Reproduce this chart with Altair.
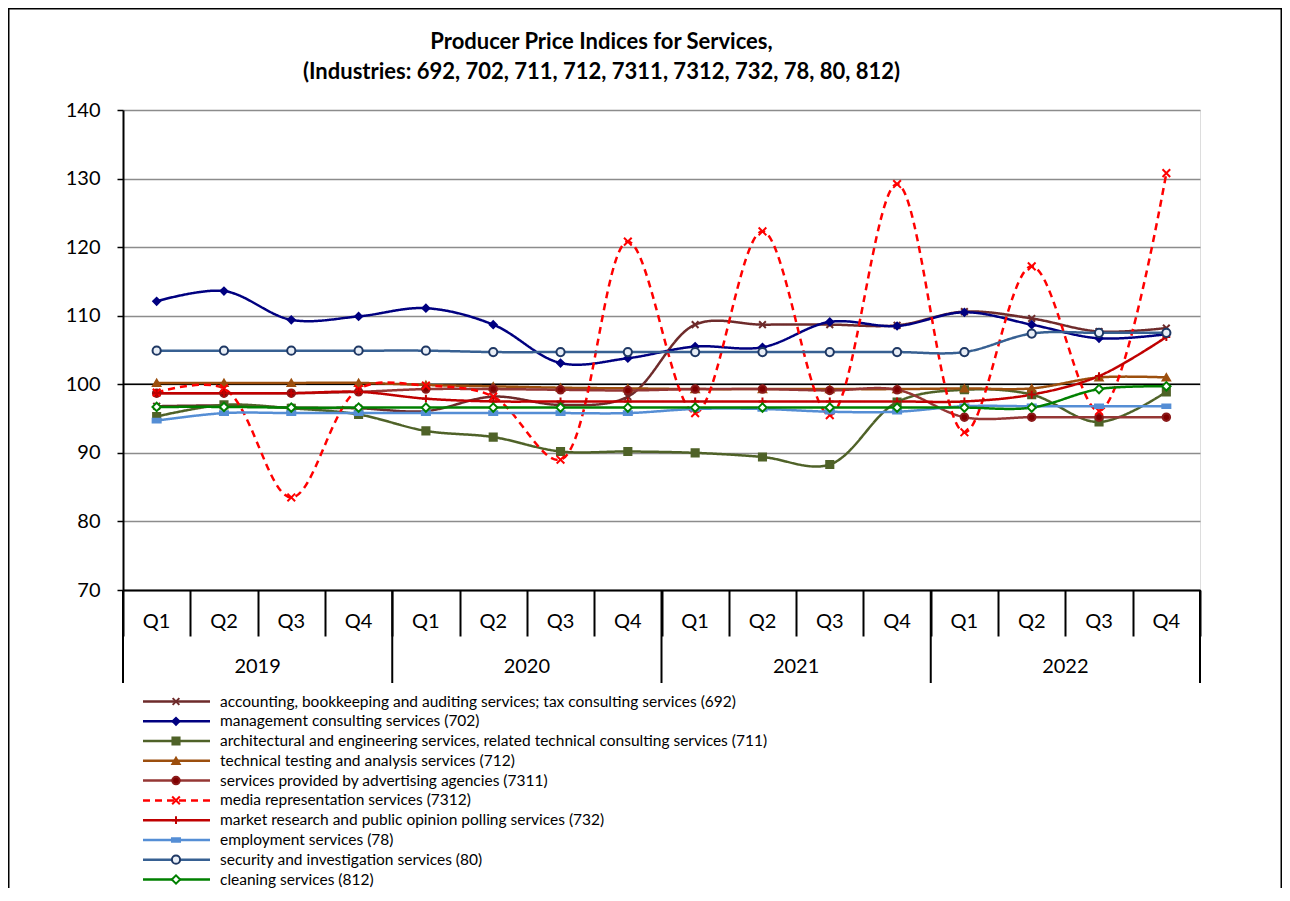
import altair as alt
import pandas as pd

quarters = ["Q1", "Q2", "Q3", "Q4"]
years = ["2019", "2020", "2021", "2022"]

codes = ["692", "702", "711", "712", "7311", "7312", "732", "78", "80", "812"]
labels = [
    "accounting, bookkeeping and auditing services; tax consulting services (692)",
    "management consulting services (702)",
    "architectural and engineering services, related technical consulting services (711)",
    "technical testing and analysis services (712)",
    "services provided by advertising agencies (7311)",
    "media representation services (7312)",
    "market research and public opinion polling services (732)",
    "employment services (78)",
    "security and investigation services (80)",
    "cleaning services (812)",
]

s692 = [96.8, 96.9, 96.6, 96.5, 96.1, 98.2, 97.0, 98.2, 108.7, 108.7, 108.7, 108.6, 110.6, 109.6, 107.7, 108.2]
s702 = [112.1, 113.6, 109.4, 109.9, 111.1, 108.7, 103.1, 103.8, 105.5, 105.4, 109.1, 108.5, 110.5, 108.7, 106.7, 107.3]
s711 = [95.3, 97.0, 96.5, 95.6, 93.2, 92.3, 90.2, 90.2, 90.0, 89.4, 88.3, 97.4, 99.2, 98.5, 94.5, 98.9]
s712 = [100.2, 100.2, 100.2, 100.2, 99.9, 99.7, 99.5, 99.4, 99.3, 99.3, 99.3, 99.3, 99.4, 99.4, 101.0, 101.0]
s7311 = [98.7, 98.7, 98.7, 98.9, 99.3, 99.3, 99.2, 99.1, 99.3, 99.3, 99.1, 99.2, 95.2, 95.2, 95.2, 95.2]
s7312 = [98.8, 99.4, 83.5, 99.3, 99.8, 98.2, 89.0, 120.8, 95.8, 122.3, 95.5, 129.2, 93.0, 117.2, 96.1, 130.8]
s732 = [98.7, 98.7, 98.7, 98.9, 97.9, 97.5, 97.5, 97.5, 97.5, 97.5, 97.5, 97.5, 97.5, 98.5, 101.2, 106.9]
s78 = [94.7, 95.8, 95.8, 95.8, 95.8, 95.8, 95.8, 95.8, 96.4, 96.4, 96.0, 96.0, 96.8, 96.8, 96.8, 96.8]
s80 = [104.9, 104.9, 104.9, 104.9, 104.9, 104.7, 104.7, 104.7, 104.7, 104.7, 104.7, 104.7, 104.7, 107.4, 107.5, 107.5]
s812 = [96.7, 96.7, 96.6, 96.6, 96.6, 96.6, 96.6, 96.6, 96.6, 96.6, 96.6, 96.6, 96.6, 96.6, 99.3, 99.7]
series = [s692, s702, s711, s712, s7311, s7312, s732, s78, s80, s812]

line_colors = ["#6E2B2B", "#000080", "#4F6228", "#9C4F0E", "#953735", "#FF0000", "#C00000", "#558ED5", "#376092", "#008000"]
marker_fill = ["#6E2B2B", "#000080", "#4F6228", "#9C4F0E", "#7F0000", "#FF0000", "#C00000", "#558ED5", "#E8EEF6", "#FFFFFF"]
marker_stroke = ["#6E2B2B", "#000080", "#4F6228", "#9C4F0E", "#8B1A1A", "#FF0000", "#C00000", "#558ED5", "#1F3864", "#008000"]
marker_shape = [
    "M-1,-1L1,1M-1,1L1,-1",
    "diamond",
    "square",
    "triangle-up",
    "circle",
    "M-1,-1L1,1M-1,1L1,-1",
    "M-1,0L1,0M0,-1L0,1",
    "M-1,-0.45H1V0.45H-1Z",
    "circle",
    "diamond",
]
marker_size = [45, 70, 55, 110, 130, 45, 55, 40, 85, 60]
dashes = [[1, 0]] * 5 + [[7, 5]] + [[1, 0]] * 4

keys = [f"{y} {q}" for y in years for q in quarters]

rows = []
for code, vals in zip(codes, series):
    for k, v in zip(keys, vals):
        rows.append({"code": code, "key": k, "value": v})
df = pd.DataFrame(rows)

qdf = pd.DataFrame({"key": keys, "q": [k.split(" ")[1] for k in keys]})
ystart = pd.DataFrame({"key": [f"{y} Q1" for y in years]})
ymid = pd.DataFrame({"key": [f"{y} Q3" for y in years], "year": years})
yend = pd.DataFrame({"key": [keys[-1]]})
legdf = pd.DataFrame({"code": codes, "label": labels, "li": list(range(len(codes)))})

FONT = "Lato"
W, H = 1077, 480
PAD_R = 82

xsc = alt.Scale(domain=keys, paddingInner=0, paddingOuter=0)
ysc = alt.Scale(domain=[70, 140], nice=False, zero=False)
col = alt.Scale(domain=codes, range=line_colors)
dsh = alt.Scale(domain=codes, range=dashes)
fil = alt.Scale(domain=codes, range=marker_fill)
stk = alt.Scale(domain=codes, range=marker_stroke)
shp = alt.Scale(domain=codes, range=marker_shape)
siz = alt.Scale(domain=codes, range=marker_size)

xaxis = alt.Axis(labels=False, ticks=True, tickBand="extent", tickSize=46, tickWidth=2,
                 tickColor="black", domainColor="black", domainWidth=2, grid=False, title=None)
yaxis = alt.Axis(values=[70, 80, 90, 100, 110, 120, 130, 140], labelFontSize=20, labelFont=FONT,
                 labelColor="black", tickSize=6, tickWidth=1.5, tickColor="black",
                 domainColor="black", domainWidth=2, grid=True, gridColor="#8C8C8C",
                 gridWidth=1.5, labelPadding=17, title=None)

lines = alt.Chart(df).mark_line(interpolate="catmull-rom", strokeWidth=2.5).encode(
    x=alt.X("key:N", scale=xsc, axis=xaxis, sort=keys),
    y=alt.Y("value:Q", scale=ysc, axis=yaxis),
    color=alt.Color("code:N", scale=col, legend=None),
    strokeDash=alt.StrokeDash("code:N", scale=dsh, legend=None),
)
points = alt.Chart(df).mark_point(filled=False, strokeWidth=2, opacity=1).encode(
    x=alt.X("key:N", scale=xsc, sort=keys),
    y=alt.Y("value:Q", scale=ysc),
    fill=alt.Fill("code:N", scale=fil, legend=None),
    stroke=alt.Stroke("code:N", scale=stk, legend=None),
    shape=alt.Shape("code:N", scale=shp, legend=None),
    size=alt.Size("code:N", scale=siz, legend=None),
)
base100 = alt.Chart(pd.DataFrame({"v": [100]})).mark_rule(color="black", strokeWidth=1.5).encode(
    y=alt.Y("v:Q", scale=ysc)
)
qlab = alt.Chart(qdf).mark_text(font=FONT, fontSize=20, color="black", baseline="middle").encode(
    x=alt.X("key:N", scale=xsc, sort=keys), y=alt.value(512), text="q:N"
)
ylab = alt.Chart(ymid).mark_text(font=FONT, fontSize=20, color="black", baseline="middle").encode(
    x=alt.X("key:N", scale=xsc, sort=keys, bandPosition=0), y=alt.value(557), text="year:N"
)
ysep = alt.Chart(ystart).mark_rule(color="black", strokeWidth=2).encode(
    x=alt.X("key:N", scale=xsc, sort=keys, bandPosition=0), y=alt.value(480), y2=alt.value(573)
)
yendr = alt.Chart(yend).mark_rule(color="black", strokeWidth=2).encode(
    x=alt.X("key:N", scale=xsc, sort=keys, bandPosition=1), y=alt.value(480), y2=alt.value(573)
)

plot = alt.layer(base100, lines, points, qlab, ylab, ysep, yendr)

lsc = alt.Scale(domain=[0, 9], range=[591.5, 769.5])
leg_line = alt.Chart(legdf).mark_rule(strokeWidth=2.5).encode(
    x=alt.value(20), x2=alt.value(87),
    y=alt.Y("li:Q", scale=lsc, axis=None),
    color=alt.Color("code:N", scale=col, legend=None),
    strokeDash=alt.StrokeDash("code:N", scale=dsh, legend=None),
)
leg_pt = alt.Chart(legdf).mark_point(filled=False, strokeWidth=2, opacity=1).encode(
    x=alt.value(53),
    y=alt.Y("li:Q", scale=lsc, axis=None),
    fill=alt.Fill("code:N", scale=fil, legend=None),
    stroke=alt.Stroke("code:N", scale=stk, legend=None),
    shape=alt.Shape("code:N", scale=shp, legend=None),
    size=alt.Size("code:N", scale=siz, legend=None),
)
leg_txt = alt.Chart(legdf).mark_text(font=FONT, fontSize=15.5, color="black", align="left", baseline="middle").encode(
    x=alt.value(97),
    y=alt.Y("li:Q", scale=lsc, axis=None),
    text="label:N",
)
frame = alt.Chart(pd.DataFrame({"a": [0]})).mark_rule(color="black", strokeWidth=1.5).encode(
    x=alt.value(-114.25), y=alt.value(-101.5), y2=alt.value(800)
)
frame_r = alt.Chart(pd.DataFrame({"a": [0]})).mark_rule(color="black", strokeWidth=1.5).encode(
    x=alt.value(W + PAD_R - 0.75), y=alt.value(-101.5), y2=alt.value(800)
)
frame_t = alt.Chart(pd.DataFrame({"a": [0]})).mark_rule(color="black", strokeWidth=1.5).encode(
    x=alt.value(-115), x2=alt.value(W + PAD_R), y=alt.value(-101.25)
)
legend = alt.layer(leg_line, leg_pt, leg_txt, frame, frame_r, frame_t)

chart = alt.layer(plot, legend).resolve_scale(y="independent").properties(
    width=W, height=H,
    title=alt.TitleParams(
        text=["Producer Price Indices for Services,",
              "(Industries: 692, 702, 711, 712, 7311, 7312, 732, 78, 80, 812)"],
        font=FONT, fontSize=22, fontWeight="bold", color="black", anchor="middle",
        frame="group", dx=-60, offset=0, dy=76, lineHeight=30,
    ),
    autosize=alt.AutoSizeParams(type="none"),
    padding={"left": 115, "top": 102, "right": PAD_R, "bottom": 298},
).configure_view(stroke=None).configure(background="white")

chart.save("out.html", embed_options={"renderer": "svg", "actions": False})
